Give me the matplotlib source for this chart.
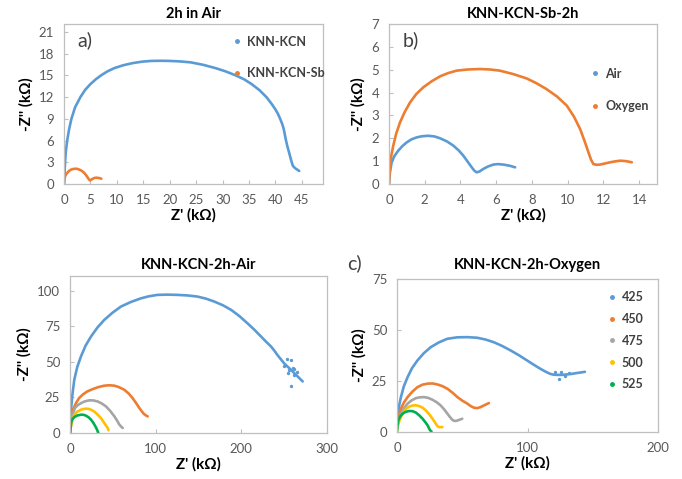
import matplotlib
matplotlib.use("Agg")
import matplotlib.pyplot as plt
from matplotlib.lines import Line2D

# ---- datos (kΩ) ----
# a) 2h en aire: KNN-KCN
kcn_air_x = [0, 0.1, 0.2, 0.35, 0.6, 0.95, 1.4, 2.1, 3.1, 4.0, 5.0, 6.0, 7.0, 8.2, 9.5,
             11.2, 13.0, 14.8, 16.5, 18.3, 20.0, 22.0, 24.0, 26.4, 28.7, 30.6, 32.5, 34.1,
             35.5, 37.0, 38.3, 39.2, 40.0, 40.5, 40.9, 41.3, 41.6, 41.8, 42.0, 42.3, 42.6,
             43.0, 43.3, 43.7, 44.1, 44.5]
kcn_air_y = [0, 1.5, 3.0, 4.5, 6.0, 7.5, 9.0, 10.6, 12.0, 13.0, 13.8, 14.45, 15.0, 15.55,
             16.0, 16.4, 16.7, 16.9, 17.0, 17.02, 17.0, 16.93, 16.8, 16.45, 16.0, 15.55,
             15.0, 14.45, 13.8, 12.95, 12.0, 11.15, 10.3, 9.65, 9.0, 8.25, 7.5, 6.75, 6.0,
             5.1, 4.3, 3.2, 2.5, 2.2, 2.0, 1.8]

# KNN-KCN-Sb-2h en aire (aparece en a y b)
sb_air_x = [0, 0.05, 0.15, 0.3, 0.52, 0.75, 0.99, 1.25, 1.55, 1.85, 2.2, 2.55, 2.86, 3.25,
            3.6, 3.9, 4.16, 4.4, 4.63, 4.78, 4.91, 5.07, 5.28, 5.55, 5.84, 6.1, 6.4, 6.75,
            7.06]
sb_air_y = [0, 0.5, 0.95, 1.22, 1.46, 1.66, 1.82, 1.95, 2.04, 2.09, 2.11, 2.08, 2.0, 1.86,
            1.68, 1.47, 1.24, 0.98, 0.73, 0.58, 0.51, 0.55, 0.66, 0.77, 0.85, 0.87, 0.85,
            0.8, 0.73]

# KNN-KCN-Sb-2h en oxígeno
sb_oxy_x = [0, 0.03, 0.06, 0.13, 0.24, 0.4, 0.62, 0.88, 1.18, 1.52, 1.92, 2.38, 2.86, 3.3,
            3.79, 4.4, 5.1, 5.65, 6.2, 6.95, 7.7, 8.25, 8.8, 9.4, 9.95, 10.35, 10.7, 10.95,
            11.16, 11.3, 11.44, 11.62, 11.82, 12.1, 12.38, 12.66, 12.94, 13.27, 13.59]
sb_oxy_y = [0, 0.4, 0.8, 1.25, 1.68, 2.2, 2.7, 3.15, 3.57, 3.93, 4.23, 4.49, 4.71, 4.85,
            4.96, 5.01, 5.03, 5.01, 4.96, 4.81, 4.62, 4.41, 4.16, 3.83, 3.43, 2.95, 2.4,
            1.87, 1.39, 1.08, 0.87, 0.84, 0.85, 0.9, 0.95, 0.99, 1.02, 1.0, 0.95]

temps = ["425", "450", "475", "500", "525"]
colores = ["#5B9BD5", "#ED7D31", "#A5A5A5", "#FFC000", "#00B050"]

# KNN-KCN-2h-Air por temperatura
air_x = [
    [0, 0.5, 1.2, 2.8, 5, 8.5, 12.8, 18.2, 24.5, 32, 40, 49.5, 59.5, 71, 82.9, 92, 102, 114,
     125.7, 137.5, 149, 159, 168.5, 178.5, 188, 197.5, 207, 215, 223, 229, 234.6, 238.5, 242,
     246, 250, 254, 258, 262, 265.8, 268.7, 271.6],
    [0, 1.2, 3.5, 7, 10.5, 14.8, 20, 26.5, 33, 40, 46, 51.8, 57.5, 63.4, 68.5, 73, 77.2, 80.9,
     83.5, 86, 88.5, 90.7],
    [0, 1.2, 3, 5.8, 9, 12.8, 17.5, 22.6, 27.5, 32.3, 37, 42, 47, 51.8, 55, 57.6, 59.8, 61.5],
    [0, 1.2, 2.8, 5, 8.5, 12.8, 15.8, 18.7, 21.5, 24.5, 28.5, 32.3, 36.5, 40, 42.3, 44, 45],
    [0, 0.4, 1.2, 2.5, 5, 8.5, 12.8, 15.8, 18.7, 21.8, 24.5, 27.2, 29.6, 31.2, 32.3, 33],
]
air_y = [
    [7, 11, 16.4, 27, 37.5, 46.5, 53.9, 61.5, 67.9, 74.2, 79.6, 84.6, 89, 92.2, 94.8, 96.2,
     97.2, 97.4, 97.2, 96.8, 96, 94.5, 92.5, 89.9, 86.7, 82.4, 77.3, 72.8, 67.9, 64.2, 60.9,
     58, 55, 52, 49, 46.7, 44.5, 42, 39.8, 38, 36.3],
    [6, 11.7, 16.5, 21, 24.5, 27, 29.2, 30.9, 32.3, 33.3, 33.6, 33.3, 32.2, 30.4, 27.8, 24.6,
     21, 17.6, 15.5, 13.6, 12.4, 11.7],
    [4, 8.2, 13, 17.6, 19.6, 21, 22.3, 23, 22.9, 22.2, 20.8, 18.7, 15.5, 11.7, 8.7, 5.9,
     4.5, 3.5],
    [2, 4.7, 9, 12.9, 15, 16.4, 16.9, 17.1, 17, 16.4, 15, 12.9, 10.2, 7, 5, 3.5, 1.9],
    [0, 0, 7, 9.5, 11.2, 12.3, 12.9, 12.8, 12.2, 11, 9.4, 7.2, 4.7, 2.8, 1.2, 0],
]
air_ruido_x = [250, 253, 255, 258, 258, 260, 262, 265, 262, 256]
air_ruido_y = [47, 52, 42, 51.5, 33, 46, 40.5, 43, 45, 44]

# KNN-KCN-2h-Oxygen por temperatura
oxy_x = [
    [0, 0.5, 1.5, 3, 5.2, 8.1, 11.5, 15.7, 20.5, 25.9, 32, 38.6, 46, 53.9, 61.5, 68, 74.2,
     80.5, 87, 93.5, 99.6, 105, 109.8, 113.8, 117.4, 120, 122.5, 126, 130, 134, 137.7, 141,
     144],
    [0, 0.5, 1.5, 3, 5.3, 8.1, 11.8, 15.7, 19.5, 23.4, 27.2, 31, 34.8, 38.6, 42.5, 46.3, 50,
     53.9, 56.5, 59, 61.5, 64, 67.2, 70.4],
    [0, 0.5, 1.5, 3, 5.3, 8.1, 11.2, 14.5, 17.6, 20.8, 24, 27.2, 30.4, 33.5, 36, 38.6, 40.5,
     42.4, 43.7, 45, 47.5, 50],
    [0, 0.5, 1.5, 3, 4.8, 6.9, 9.3, 11.9, 14.5, 17, 19.6, 22.1, 24.7, 27.2, 29, 30.5, 31.4,
     32.3, 33.5, 34.8],
    [0, 0.3, 1, 2.4, 4.3, 6.8, 9.4, 12, 14.5, 17, 19.6, 21.6, 23.4, 24.4, 25.4, 26.4],
]
oxy_y = [
    [3, 7.3, 12.5, 17.1, 22.3, 26.9, 31.3, 35.1, 38.6, 41.6, 43.9, 45.7, 46.4, 46.5, 46.2,
     45.3, 44, 42.2, 40, 37.6, 35.1, 32.9, 31, 29.6, 28.5, 28.1, 28, 28, 28.2, 28.5, 28.9,
     29.2, 29.5],
    [2, 4.9, 8.3, 11.4, 14.5, 17.1, 19.8, 22, 23.2, 23.7, 23.8, 23.3, 22.5, 21.2, 19.3, 17.1,
     15.4, 13.9, 12.7, 11.9, 11.7, 12.2, 13.2, 14.2],
    [1.5, 3.3, 6.3, 9, 11.7, 13.9, 15.5, 16.6, 17, 17.1, 16.7, 15.8, 14.6, 13, 11.2, 9, 7.4,
     6, 5.5, 5.4, 5.9, 6.5],
    [1, 2.4, 5, 7.3, 9.6, 11.4, 12.4, 13, 13.1, 12.7, 11.9, 10.6, 8.7, 6.5, 4.8, 3.3, 2.7,
     2.4, 2.4, 2.4],
    [0, 3, 5.7, 7.6, 9, 9.9, 10.3, 10.2, 9.5, 8.2, 6.5, 4.9, 3.3, 2, 0.8, 0.3],
]
oxy_ruido_x = [121, 123.8, 126, 129, 132]
oxy_ruido_y = [29.5, 26.1, 29.2, 27.6, 28.8]

plt.rcParams["font.family"] = ["Lato", "DejaVu Sans"]
GRIS = "#595959"
OSCURO = "#404040"
W, H = 682, 479
LW = 1.9


def ejes(px_left, px_top, px_right, px_bottom):
    """Crea un eje a partir de su caja en píxeles."""
    ax = fig.add_axes([px_left / W, 1 - px_bottom / H,
                       (px_right - px_left) / W, (px_bottom - px_top) / H])
    for s in ax.spines.values():
        s.set_color("#BFBFBF")
        s.set_linewidth(0.9)
    ax.tick_params(direction="in", length=3, color="#BFBFBF", labelcolor=GRIS,
                   labelsize=9.5, pad=7)
    return ax


def curva(ax, xs, ys, c):
    ax.plot(xs, ys, color=c, lw=LW, solid_joinstyle="round", solid_capstyle="round")


def etiquetas(ax, titulo, tpad):
    ax.set_title(titulo, fontsize=10.5, fontweight="bold", color="black", pad=tpad)
    ax.set_xlabel("Z' (kΩ)", fontsize=11, fontweight="bold", color="black", labelpad=2)
    ax.set_ylabel("-Z'' (kΩ)", fontsize=11, fontweight="bold", color="black", labelpad=4)


def leyenda(ax, nombres, cols, x, y, sep):
    handles = [Line2D([], [], ls="", marker="o", ms=2.5, color=c) for c in cols]
    ax.legend(handles, nombres, loc="upper left", bbox_to_anchor=(x, y), frameon=False,
              handlelength=0.6, handletextpad=0.5, borderpad=0, labelspacing=sep,
              prop={"weight": "bold", "size": 9}, labelcolor=OSCURO)


fig = plt.figure(figsize=(W / 100, H / 100), dpi=100)

# a) 2h in Air
ax = ejes(64, 24, 323, 184)
curva(ax, kcn_air_x, kcn_air_y, colores[0])
curva(ax, sb_air_x, sb_air_y, colores[1])
ax.set_xlim(0, 49)
ax.set_ylim(0, 22.1)
ax.set_xticks(range(0, 46, 5))
ax.set_yticks(range(0, 22, 3))
etiquetas(ax, "2h in Air", 4)
leyenda(ax, ["KNN-KCN", "KNN-KCN-Sb"], colores[:2], 0.628, 0.965, 1.55)
fig.text(77 / W, 1 - 40 / H, "a)", fontsize=14, color=OSCURO, va="center")

# b) KNN-KCN-Sb-2h
ax = ejes(389, 24, 657, 184)
curva(ax, sb_air_x, sb_air_y, colores[0])
curva(ax, sb_oxy_x, sb_oxy_y, colores[1])
ax.set_xlim(0, 15)
ax.set_ylim(0, 7)
ax.set_xticks(range(0, 15, 2))
ax.set_yticks(range(0, 8))
etiquetas(ax, "KNN-KCN-Sb-2h", 4)
leyenda(ax, ["Air", "Oxygen"], colores[:2], 0.733, 0.765, 1.65)
fig.text(403 / W, 1 - 40 / H, "b)", fontsize=14, color=OSCURO, va="center")

# KNN-KCN-2h-Air
ax = ejes(70, 276, 327, 433)
for xs, ys, c in zip(air_x, air_y, colores):
    curva(ax, xs, ys, c)
ax.scatter(air_ruido_x, air_ruido_y, s=2, color=colores[0])
ax.set_xlim(0, 300)
ax.set_ylim(0, 110.5)
ax.set_xticks([0, 100, 200, 300])
ax.set_yticks([0, 25, 50, 75, 100])
etiquetas(ax, "KNN-KCN-2h-Air", 5)

# c) KNN-KCN-2h-Oxygen
ax = ejes(397, 279, 658, 432)
for xs, ys, c in zip(oxy_x, oxy_y, colores):
    curva(ax, xs, ys, c)
ax.scatter(oxy_ruido_x, oxy_ruido_y, s=2, color=colores[0])
ax.set_xlim(0, 200)
ax.set_ylim(0, 75)
ax.set_xticks([0, 100, 200])
ax.set_yticks([0, 25, 50, 75])
etiquetas(ax, "KNN-KCN-2h-Oxygen", 7)
leyenda(ax, temps, colores, 0.785, 0.96, 0.78)
fig.text(347 / W, 1 - 263 / H, "c)", fontsize=14, color=OSCURO, va="center")

fig.savefig("out.png", dpi=100)
